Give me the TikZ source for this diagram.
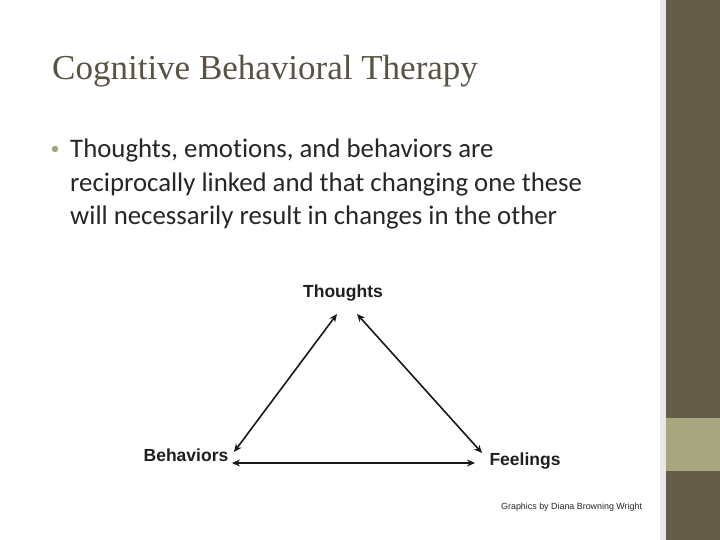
\documentclass[tikz,border=0pt]{standalone}
\usepackage{fontspec}
\setmainfont{Liberation Serif}
\newfontfamily\bodyfont[Ligatures=NoCommon]{Carlito}
\newfontfamily\labfont{Liberation Sans}
\usetikzlibrary{arrows.meta}
\definecolor{sidedark}{HTML}{655D48}
\definecolor{sidelight}{HTML}{A8A67E}
\definecolor{titlecol}{HTML}{595344}
\definecolor{bulletcol}{HTML}{A3A27A}
\definecolor{stripcol}{HTML}{E8E8E8}
\tikzset{
  lab/.style={font=\labfont\bfseries\fontsize{17.5}{20}\selectfont, text=black!88, inner sep=0pt},
  bodyline/.style={anchor=base west, inner sep=0pt, text=black!85, font=\bodyfont\fontsize{26.8}{32}\selectfont},
  link/.style={draw=black!90, line width=1.6pt, {Stealth[length=8pt,width=7pt]}-{Stealth[length=8pt,width=7pt]}},
}
\begin{document}
\begin{tikzpicture}[x=1pt,y=-1pt]
\useasboundingbox (0,0) rectangle (720,540);
\fill[white] (0,0) rectangle (720,540);
\fill[stripcol] (660,0) rectangle (666,540);
\fill[sidedark] (666,0) rectangle (720,540);
\fill[sidelight] (666,418) rectangle (720,471);
% title
\node[anchor=base west, inner sep=0pt, text=titlecol, font=\fontsize{35}{38}\selectfont] (title) at (52,80) {Cognitive Behavioral Therapy};
% bullet
\fill[bulletcol] (55,149) circle (3.2pt);
\node[bodyline] (l1) at (70,158) {Thoughts, emotions, and behaviors are};
\node[bodyline] (l2) at (70,191.5) {reciprocally linked and that changing one these};
\node[bodyline] (l3) at (70,225) {will necessarily result in changes in the other};
% diagram
\node[lab] (th) at (343,293) {Thoughts};
\node[lab] (be) at (186,455) {Behaviors};
\node[lab] (fe) at (525,461) {Feelings};
\coordinate (thL) at (337,314);
\coordinate (thR) at (357,314);
\coordinate (beT) at (234,452);
\coordinate (beR) at (232,463);
\coordinate (feT) at (482,453);
\coordinate (feL) at (475,463);
\draw[link] (thL) -- (beT);
\draw[link] (thR) -- (feT);
\draw[link] (beR) -- (feL);
\node[anchor=base west, inner sep=0pt, text=black!85, font=\labfont\fontsize{8.9}{10}\selectfont] (credit) at (501,509) {Graphics by Diana Browning Wright};
\end{tikzpicture}
\end{document}
